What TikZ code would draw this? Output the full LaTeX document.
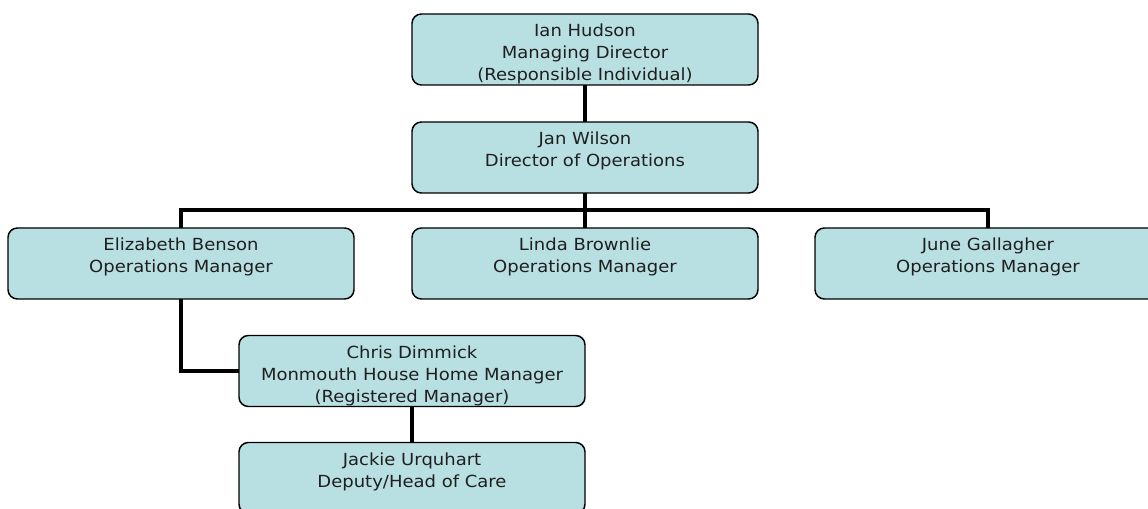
\documentclass[tikz,border=0pt]{standalone}
\usepackage{fontspec}
\setmainfont{DejaVu Sans}[FakeStretch=1.08]
\definecolor{boxfill}{HTML}{B8DFE2}
\begin{document}
\begin{tikzpicture}[x=0.75pt,y=-0.75pt,
  orgbox/.style={draw=black, line width=1.1pt, fill=boxfill, rounded corners=7pt, minimum width=259.5pt, minimum height=53.25pt, inner sep=0pt, outer sep=0pt},
  orgtext/.style={anchor=north, align=center, font=\fontsize{12.5}{16.5}\selectfont, inner sep=0pt, text=black!88},
  link/.style={line width=3.6pt}]
\useasboundingbox (0,0) rectangle (1148,509);
\clip (0,0) rectangle (1148,509);
% boxes
\node[orgbox] (ian) at (585,49.5) {};
\node[orgbox] (jan) at (585,157.5) {};
\node[orgbox] (eliz) at (181,263.5) {};
\node[orgbox] (linda) at (585,263.5) {};
\node[orgbox] (june) at (988,263.5) {};
\node[orgbox] (chris) at (412,371) {};
\node[orgbox] (jackie) at (412,478) {};
% texts
\node[orgtext] (tian) at ([yshift=-7.5pt]ian.north) {Ian Hudson\\Managing Director\\(Responsible Individual)};
\node[orgtext] (tjan) at ([yshift=-7.5pt]jan.north) {Jan Wilson\\Director of Operations};
\node[orgtext] (teliz) at ([yshift=-7.5pt]eliz.north) {Elizabeth Benson\\Operations Manager};
\node[orgtext] (tlinda) at ([yshift=-7.5pt]linda.north) {Linda Brownlie\\Operations Manager};
\node[orgtext] (tjune) at ([yshift=-7.5pt]june.north) {June Gallagher\\Operations Manager};
\node[orgtext] (tchris) at ([yshift=-7.5pt]chris.north) {Chris Dimmick\\Monmouth House Home Manager\\(Registered Manager)};
\node[orgtext] (tjackie) at ([yshift=-7.5pt]jackie.north) {Jackie Urquhart\\Deputy/Head of Care};
% connectors
\coordinate (bus) at (585,210);
\draw[link] (ian.south) -- (jan.north);
\draw[link] (jan.south) -- (bus);
\draw[link] (eliz.north) |- (bus) -| (june.north);
\draw[link] (bus) -- (linda.north);
\draw[link] (eliz.south) |- (chris.west);
\draw[link] (chris.south) -- (jackie.north);
\end{tikzpicture}
\end{document}
